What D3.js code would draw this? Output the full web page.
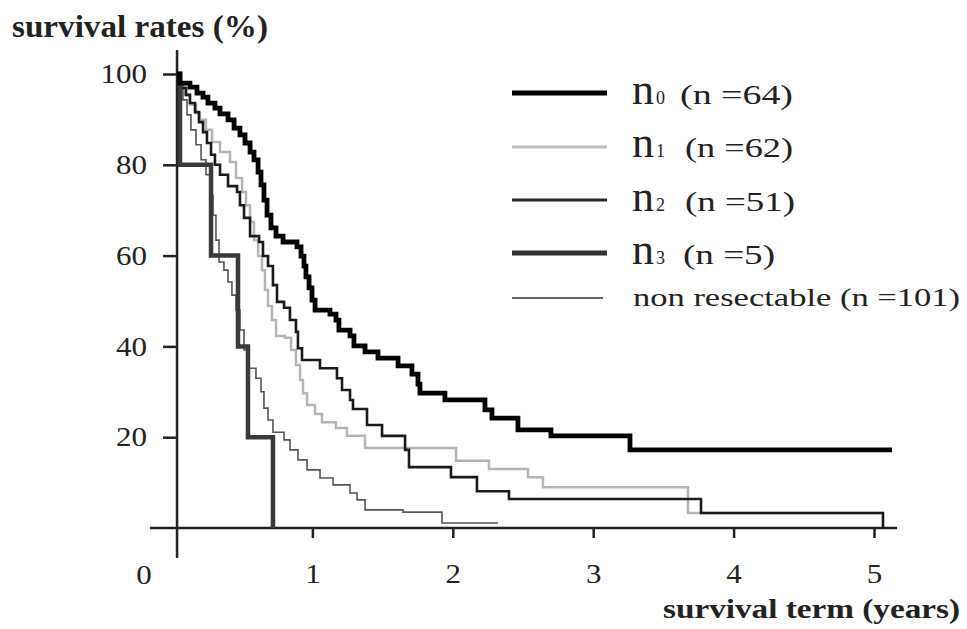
<!DOCTYPE html>
<html>
<head>
<meta charset="utf-8">
<script src="https://cdn.jsdelivr.net/npm/d3@7"></script>
<style>
body { margin: 0; background: #fff; }
text { font-family: "Liberation Serif", "Times New Roman", serif; fill: #222; }
</style>
</head>
<body>
<div id="chart"></div>
<script>
// survival curves: time (years) where the step happens, survival (%) after it
var n0Times = [0.036, 0.057, 0.128, 0.178, 0.221, 0.256, 0.306, 0.342, 0.399, 0.442, 0.484, 0.520, 0.556, 0.584, 0.613, 0.634, 0.655, 0.677, 0.705, 0.741, 0.791, 0.890, 0.919, 0.940, 0.954, 0.976, 0.997, 1.019, 1.125, 1.168, 1.189, 1.268, 1.296, 1.375, 1.467, 1.610, 1.709, 1.752, 1.766, 1.944, 2.229, 2.279, 2.464, 2.699, 3.262, 5.128];
var n0Surv = [100, 98.0, 97.1, 95.8, 94.9, 93.6, 92.5, 91.2, 89.9, 88.1, 86.6, 84.8, 82.8, 81.1, 78.4, 75.6, 72.2, 68.9, 66.1, 64.3, 63.0, 61.9, 59.9, 57.7, 55.3, 52.9, 50.2, 48.0, 47.1, 45.8, 43.6, 42.3, 40.1, 38.8, 37.4, 35.7, 33.9, 31.7, 29.7, 28.2, 26.0, 24.2, 21.6, 20.3, 17.2, 17.2];

var n1Times = [0.036, 0.057, 0.093, 0.128, 0.171, 0.199, 0.242, 0.285, 0.342, 0.413, 0.456, 0.499, 0.527, 0.556, 0.584, 0.613, 0.641, 0.662, 0.684, 0.712, 0.741, 0.805, 0.848, 0.883, 0.912, 0.933, 0.962, 1.019, 1.068, 1.168, 1.246, 1.375, 2.023, 2.258, 2.536, 2.642, 3.675, 5.064];
var n1Surv = [100, 97.6, 95.4, 93.2, 91.4, 89.9, 87.7, 85.0, 82.8, 80.6, 77.1, 74.0, 71.1, 67.4, 63.4, 59.9, 56.8, 52.4, 48.9, 45.8, 42.3, 41.9, 39.2, 35.9, 32.6, 29.7, 27.1, 25.1, 23.3, 22.0, 20.3, 17.6, 14.8, 13.0, 11.2, 9.0, 3.3, 3.3];

var n2Times = [0.036, 0.050, 0.100, 0.128, 0.164, 0.192, 0.221, 0.249, 0.278, 0.306, 0.342, 0.399, 0.463, 0.484, 0.513, 0.556, 0.620, 0.648, 0.684, 0.719, 0.748, 0.798, 0.840, 0.883, 0.897, 0.926, 1.054, 1.175, 1.211, 1.268, 1.289, 1.389, 1.496, 1.660, 1.688, 1.987, 2.172, 2.400, 3.768, 5.064];
var n2Surv = [100, 96.9, 95.4, 93.6, 91.6, 89.4, 87.2, 84.8, 82.2, 80.0, 77.8, 75.3, 74.0, 71.1, 68.3, 64.3, 63.0, 59.9, 57.7, 53.5, 49.8, 48.5, 45.8, 43.2, 39.6, 37.0, 35.2, 33.0, 30.4, 28.2, 26.2, 22.7, 20.3, 17.2, 13.4, 11.2, 8.1, 6.4, 3.3, 0];

var n3Times = [0.036, 0.057, 0.278, 0.470, 0.541, 0.719];
var n3Surv = [100, 80, 60, 40, 20, 0];

var nonTimes = [0.036, 0.050, 0.078, 0.107, 0.135, 0.171, 0.207, 0.242, 0.271, 0.292, 0.313, 0.335, 0.370, 0.399, 0.427, 0.456, 0.484, 0.513, 0.541, 0.598, 0.634, 0.655, 0.684, 0.719, 0.798, 0.840, 0.897, 0.962, 1.054, 1.147, 1.268, 1.318, 1.375, 1.645, 1.923, 2.322];
var nonSurv = [100, 97.8, 94.3, 91.0, 87.7, 84.4, 81.1, 77.8, 73.3, 68.9, 63.4, 58.6, 56.8, 54.2, 51.3, 48.0, 43.6, 39.2, 35.2, 33.0, 30.0, 26.4, 23.8, 21.1, 19.4, 17.2, 15.0, 12.8, 11.0, 9.5, 7.7, 6.2, 4.0, 3.5, 1.1, 1.1];

var yTicks = [20, 40, 60, 80, 100];
var xTicks = [1, 2, 3, 4, 5];

var legendSub = ["0", "1", "2", "3", ""];
var legendCounts = [64, 62, 51, 5, 101];

var width = 967, height = 629;
var axisT = 0.036;   // where the survival axis sits

var x = d3.scaleLinear().domain([0, 5]).range([172, 874]);
var y = d3.scaleLinear().domain([0, 100]).range([528, 74]);

var svg = d3.select("#chart").append("svg")
    .attr("width", width)
    .attr("height", height)
    .style("background", "#fff");

// axes
var yAxis = svg.append("g")
    .attr("transform", "translate(" + x(axisT) + ",0)")
    .call(d3.axisLeft(y).tickValues(yTicks).tickSize(14).tickPadding(16));
var xAxis = svg.append("g")
    .attr("transform", "translate(0," + y(0) + ")")
    .call(d3.axisBottom(x).tickValues(xTicks).tickSize(10).tickFormat(d3.format("d")));

[yAxis, xAxis].forEach(function (g) {
    g.attr("font-family", null).attr("font-size", null);
    g.select(".domain").remove();
    g.selectAll(".tick line").attr("stroke", "#222").attr("stroke-width", 2.5);
    g.selectAll(".tick text")
        .style("font-size", "27px")
        .attr("fill", "#222")
        .attr("textLength", function (d) { return String(d).length * 15.5; })
        .attr("lengthAdjust", "spacingAndGlyphs");
});
xAxis.selectAll(".tick text").attr("y", 55).attr("dy", 0);

svg.append("line")
    .attr("x1", x(axisT)).attr("x2", x(axisT))
    .attr("y1", y(105.3)).attr("y2", y(-6.6))
    .attr("stroke", "#222").attr("stroke-width", 2.5);
svg.append("line")
    .attr("x1", x(-0.157)).attr("x2", x(5.164))
    .attr("y1", y(0)).attr("y2", y(0))
    .attr("stroke", "#222").attr("stroke-width", 2.5);

svg.append("text")
    .attr("x", x(-0.2)).attr("y", 583.5)
    .attr("text-anchor", "middle")
    .style("font-size", "27px")
    .attr("textLength", 15.5).attr("lengthAdjust", "spacingAndGlyphs")
    .text("0");

// curves
var line = d3.line()
    .x(function (d) { return x(d[0]); })
    .y(function (d) { return y(d[1]); })
    .curve(d3.curveStepAfter);

var series = [
    { t: n1Times, v: n1Surv, color: "#b4b4b4", w: 2.5 },
    { t: nonTimes, v: nonSurv, color: "#555", w: 1.6 },
    { t: n2Times, v: n2Surv, color: "#1a1a1a", w: 2.6 },
    { t: n3Times, v: n3Surv, color: "#3a3a3a", w: 4.5 },
    { t: n0Times, v: n0Surv, color: "#000", w: 4.8 }
];

svg.selectAll(".curve")
    .data(series)
    .enter().append("path")
    .attr("class", "curve")
    .attr("fill", "none")
    .attr("stroke", function (d) { return d.color; })
    .attr("stroke-width", function (d) { return d.w; })
    .attr("d", function (d) { return line(d3.zip(d.t, d.v)); });

// legend
var legendStyle = [
    { color: "#000", w: 5, y: 93, base: 104, cx: 680, len: 113 },
    { color: "#bdbdbd", w: 3, y: 147, base: 157, cx: 685, len: 108 },
    { color: "#2a2a2a", w: 3, y: 200, base: 211, cx: 685, len: 110 },
    { color: "#333", w: 5, y: 253, base: 264, cx: 683, len: 92 },
    { color: "#666", w: 2, y: 298, base: 306, cx: 633, len: 327 }
];

legendCounts.forEach(function (c, i) {
    var s = legendStyle[i];
    svg.append("line")
        .attr("x1", 512).attr("x2", i == 4 ? 603 : 607)
        .attr("y1", s.y).attr("y2", s.y)
        .attr("stroke", s.color).attr("stroke-width", s.w);
    if (legendSub[i] !== "") {
        svg.append("text")
            .attr("x", 632).attr("y", s.base)
            .style("font-size", "44px")
            .text("n");
        svg.append("text")
            .attr("x", 656).attr("y", s.base)
            .style("font-size", "18px")
            .text(legendSub[i]);
        svg.append("text")
            .attr("x", s.cx).attr("y", s.base)
            .style("font-size", "27px")
            .attr("textLength", s.len).attr("lengthAdjust", "spacingAndGlyphs")
            .text("(n =" + c + ")");
    } else {
        svg.append("text")
            .attr("x", s.cx).attr("y", s.base)
            .style("font-size", "25px")
            .attr("textLength", s.len).attr("lengthAdjust", "spacingAndGlyphs")
            .text("non resectable (n =" + c + ")");
    }
});

// titles
svg.append("text")
    .attr("x", 12).attr("y", 37)
    .style("font-size", "31px").style("font-weight", "bold")
    .attr("textLength", 256).attr("lengthAdjust", "spacingAndGlyphs")
    .text("survival rates (%)");
svg.append("text")
    .attr("x", 663).attr("y", 618)
    .style("font-size", "28px").style("font-weight", "bold")
    .attr("textLength", 297).attr("lengthAdjust", "spacingAndGlyphs")
    .text("survival term (years)");
</script>
</body>
</html>
